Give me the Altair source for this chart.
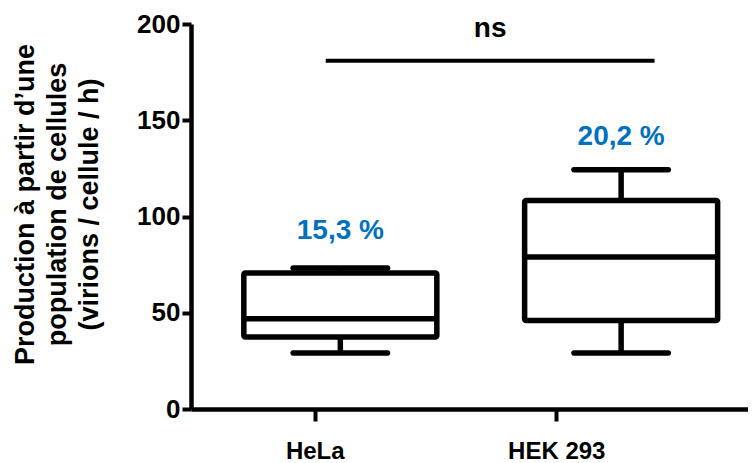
import json
import altair as alt
import pandas as pd

# ---- data ----
cells = ["HeLa", "HEK 293"]
cell_pos = [0, 1]
whisker_min = [29.1, 29.1]
q1 = [37.4, 46.0]
median = [46.9, 79.0]
q3 = [70.6, 108.3]
whisker_max = [73.2, 124.3]
pct_labels = ["15,3 %", "20,2 %"]
pct_y = [88.5, 137.3]

# category label positions on the x axis (offset from the boxes in the reference)
x_tick_values = [-0.091, 0.769]

# significance annotation
sig_x_start = [-0.052]
sig_x_end = [1.119]
sig_line_y = [180.9]
sig_text = ["ns"]
sig_text_y = [193.0]

y_ticks = [0, 50, 100, 150, 200]

df = pd.DataFrame({
    "cell": cells, "pos": cell_pos, "lo": whisker_min, "q1": q1,
    "med": median, "q3": q3, "hi": whisker_max,
    "pct": pct_labels, "pct_y": pct_y,
})
sig = pd.DataFrame({"x1": sig_x_start, "x2": sig_x_end, "y": sig_line_y,
                    "t": sig_text, "ty": sig_text_y})
sig["xm"] = (sig["x1"] + sig["x2"]) / 2

FONT = "Liberation Sans"
BOX_W = 193
CAP_W = 100
LW = 5.5

xscale = alt.Scale(domain=[-0.514, 1.434], nice=False, zero=False)
yscale = alt.Scale(domain=[0, 200], nice=False)

label_expr = f"{json.dumps(cells)}[datum.value < 0.3 ? 0 : 1]"

x_axis = alt.Axis(
    values=x_tick_values, labelExpr=label_expr, title=None, grid=False,
    domainColor="black", domainWidth=4.5, tickColor="black", tickWidth=4,
    tickSize=12, labelFont=FONT, labelFontSize=24, labelFontWeight="bold",
    labelColor="black", labelPadding=18,
)
y_axis = alt.Axis(
    values=y_ticks, grid=False, domainColor="black", domainWidth=4.5,
    tickColor="black", tickWidth=4, tickSize=9, labelFont=FONT,
    labelFontSize=26, labelFontWeight="bold", labelColor="black",
    labelPadding=2,
    title=["Production à partir d\u2019une", "population de cellules",
           "(virions / cellule / h)"],
    titleFont=FONT, titleFontSize=27, titleFontWeight="bold",
    titleColor="black", titleAngle=270, titleX=-158, titleY=180,
    titleAlign="center", titleBaseline="alphabetic", titleLineHeight=32,
)

base = alt.Chart(df)

x_enc = alt.X("pos:Q", scale=xscale, axis=x_axis)

whisk_up = base.mark_rule(strokeWidth=LW, color="black").encode(
    x=x_enc, y=alt.Y("q3:Q", scale=yscale, axis=y_axis), y2="hi:Q")
whisk_dn = base.mark_rule(strokeWidth=LW, color="black").encode(
    x="pos:Q", y="lo:Q", y2="q1:Q")
box = base.mark_bar(size=BOX_W, orient="vertical", fill="white",
                    stroke="black", strokeWidth=LW, cornerRadius=1.5,
                    strokeJoin="round").encode(
    x="pos:Q", y="q1:Q", y2="q3:Q")
med = base.mark_tick(orient="horizontal", size=BOX_W, thickness=LW,
                     color="black", opacity=1).encode(x="pos:Q", y="med:Q")
cap_hi = base.mark_tick(orient="horizontal", size=CAP_W, thickness=LW,
                        color="black", opacity=1, cornerRadius=2.7).encode(
    x="pos:Q", y="hi:Q")
cap_lo = base.mark_tick(orient="horizontal", size=CAP_W, thickness=LW,
                        color="black", opacity=1, cornerRadius=2.7).encode(
    x="pos:Q", y="lo:Q")
pct = base.mark_text(font=FONT, fontSize=28, fontWeight="bold",
                     color="#0070C0", baseline="alphabetic",
                     align="center").encode(x="pos:Q", y="pct_y:Q", text="pct:N")

sbase = alt.Chart(sig)
sig_line = sbase.mark_rule(strokeWidth=4, color="black").encode(
    x="x1:Q", x2="x2:Q", y="y:Q")
sig_lab = sbase.mark_text(font=FONT, fontSize=28, fontWeight="bold",
                          color="black", baseline="alphabetic",
                          align="center").encode(x="xm:Q", y="ty:Q", text="t:N")

chart = alt.layer(
    whisk_up, whisk_dn, box, med, cap_hi, cap_lo, pct, sig_line, sig_lab
).properties(
    width=557, height=385,
    padding={"left": 183, "top": 16, "right": 0, "bottom": 54},
    autosize=alt.AutoSizeParams(type="none"),
    background="white",
).configure_view(stroke=None)

chart.save("out.html", embed_options={"renderer": "svg", "actions": False})
